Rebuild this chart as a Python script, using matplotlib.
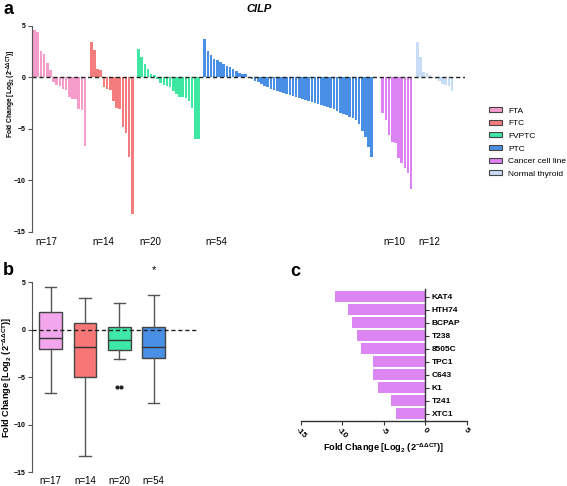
import matplotlib
matplotlib.use("Agg")
import matplotlib.pyplot as plt
import matplotlib.transforms as mtransforms
from matplotlib.patches import Patch
import numpy as np

plt.rcParams['font.family'] = ['Liberation Sans', 'DejaVu Sans']
plt.rcParams['mathtext.default'] = 'regular'

# ---------------- data ----------------
groups = ["FTA", "FTC", "FVPTC", "PTC", "Cancer cell line", "Normal thyroid"]
group_n = ["n=17", "n=14", "n=20", "n=54", "n=10", "n=12"]
colors = ["#F59CCB", "#F57C7C", "#3EE8A2", "#4A8FE6", "#DC82F2", "#C8DDF5"]

fta = [4.6, 4.4, 2.5, 2.3, 1.4, 0.7, -0.5, -0.8, -0.9, -1.1, -1.2, -1.9, -2.1, -2.1, -3.1, -3.2, -6.7]
ftc = [3.4, 2.6, 0.8, 0.7, -1.0, -1.1, -1.2, -2.3, -3.0, -3.1, -4.8, -5.4, -7.7, -13.3]
fvptc = [2.7, 2.0, 1.3, 0.8, 0.3, 0.25, -0.2, -0.6, -0.8, -0.9, -1.0, -1.3, -1.6, -1.9, -1.9,
         -2.0, -2.3, -3.0, -6.0, -6.0]
ptc = [3.7, 2.5, 2.2, 1.8, 1.7, 1.5, 1.3, 1.1, 0.95, 0.75, 0.6, 0.4, 0.35, 0.3,
       -0.1, -0.2, -0.35, -0.5, -0.7, -0.85, -1.0, -1.1, -1.25, -1.35, -1.45, -1.55, -1.65,
       -1.75, -1.8, -1.9, -2.0, -2.1, -2.2, -2.3, -2.4, -2.5, -2.6, -2.7, -2.8, -2.9, -3.0,
       -3.1, -3.3, -3.5, -3.6, -3.7, -3.9, -4.0, -4.2, -4.5, -5.2, -5.8, -6.8, -7.7]
cell_names = ["KAT4", "HTH74", "BCPAP", "T238", "8505C", "TPC1", "C643", "K1", "T241", "XTC1"]
cell_values = [-10.85, -9.3, -8.8, -8.3, -7.8, -6.35, -6.3, -5.65, -4.15, -3.5]
normal = [3.4, 2.0, 0.5, 0.4, 0.2, -0.1, -0.2, -0.4, -0.7, -0.8, -0.9, -1.3]

series_a = [fta, ftc, fvptc, ptc, cell_values[::-1], normal]
gaps_before = [0, 1, 1, 1, 2.5, 1]   # spacing between groups (in bar units)

# box plot statistics (panel b)
box_groups = ["FTA", "FTC", "FVPTC", "PTC"]
box_n = ["n=17", "n=14", "n=20", "n=54"]
box_colors = ["#F2A6EC", "#F87676", "#3EE8A6", "#4A8FE6"]
box_whishi = [4.5, 3.4, 2.8, 3.7]
box_q3 = [1.84, 0.68, 0.25, 0.33]
box_med = [-0.87, -1.81, -1.04, -1.84]
box_q1 = [-2.05, -4.93, -2.16, -3.0]
box_whislo = [-6.7, -13.3, -3.04, -7.67]
box_fliers = [[], [], [-6.0, -6.0], []]
sig_star_value = 6.3

ylab = r'Fold Change [Log$_2$ (2$^{-\Delta\Delta CT}$)]'

# ---------------- figure ----------------
fig = plt.figure(figsize=(5.67, 4.86), dpi=100)

# ---------- panel a ----------
axa = fig.add_axes([32/567, 1-231.7/486, (465-32)/567, 206/486])
pos = 0.0
starts = []
for i, (vals, col) in enumerate(zip(series_a, colors)):
    pos += gaps_before[i]
    x = pos + np.arange(len(vals))
    starts.append(pos)
    axa.bar(x, vals, width=0.82, color=col, edgecolor='none')
    pos = x[-1] + 1
axa.set_xlim(-0.83, 136.6)
axa.set_ylim(-15, 5)
axa.axhline(0, color='#222222', lw=1.0, ls=(0, (3, 2)))
for s in ['top', 'right', 'bottom']:
    axa.spines[s].set_visible(False)
axa.spines['left'].set_color('#555555')
axa.set_xticks([])
axa.set_yticks([5, 0, -5, -10, -15])
axa.tick_params(axis='y', labelsize=5, length=3, width=0.8, color='#555555', pad=1.5)
for lab in axa.get_yticklabels():
    lab.set_fontweight('bold')
fig.text(11/567, 1-94/486, ylab, rotation=90, fontsize=4.8, fontweight='bold',
         ha='center', va='center')
trans = mtransforms.blended_transform_factory(axa.transData, axa.transAxes)
for s, lab in zip(starts, group_n):
    axa.text(s + 0.3, -0.05, lab, transform=trans, ha='left', va='center', fontsize=7)
handles = [Patch(facecolor=c, edgecolor='#444444', linewidth=0.8) for c in colors]
fig.legend(handles, groups, loc='center left', bbox_to_anchor=(489/567, 1-142.5/486),
           frameon=False, fontsize=6, handlelength=1.5, handleheight=0.55,
           handletextpad=0.8, labelspacing=0.62, borderpad=0, borderaxespad=0)
fig.text(259/567, 1-9/486, 'CILP', fontsize=8, fontweight='bold', style='italic',
         ha='center', va='center')
fig.text(4/567, 1-9/486, 'a', fontsize=13, fontweight='bold', ha='left', va='center')

# ---------- panel b ----------
axb = fig.add_axes([32.3/567, 1-472.3/486, (199-32.3)/567, 190/486])
stats = []
for i in range(4):
    stats.append(dict(med=box_med[i], q1=box_q1[i], q3=box_q3[i],
                      whislo=box_whislo[i], whishi=box_whishi[i], fliers=[]))
bp = axb.bxp(stats, positions=[1, 2, 3, 4], widths=0.66, patch_artist=True,
             showfliers=False,
             boxprops=dict(edgecolor='#444444', linewidth=1.0),
             medianprops=dict(color='#333333', linewidth=1.0),
             whiskerprops=dict(color='#555555', linewidth=1.0),
             capprops=dict(color='#555555', linewidth=1.0), capwidths=0.33)
for patch, c in zip(bp['boxes'], box_colors):
    patch.set_facecolor(c)
for i, fl in enumerate(box_fliers):
    if fl:
        offs = np.linspace(-0.06, 0.06, len(fl))
        axb.scatter(np.full(len(fl), i + 1) + offs, fl, s=4, color='#222222', zorder=5)
axb.axhline(0, color='#222222', lw=1.0, ls=(0, (3, 2)), zorder=4)
axb.text(4, sig_star_value, '*', ha='center', va='center', fontsize=8, clip_on=False)
axb.set_xlim(0.463, 5.32)
axb.set_ylim(-15, 5)
for s in ['top', 'right', 'bottom']:
    axb.spines[s].set_visible(False)
axb.spines['left'].set_color('#555555')
axb.set_yticks([5, 0, -5, -10, -15])
axb.set_xticks([1, 2, 3, 4])
axb.set_xticklabels(box_n, fontsize=7)
axb.tick_params(axis='x', length=0, pad=3)
axb.tick_params(axis='y', labelsize=5, length=3, width=0.8, color='#555555', pad=1.5)
for lab in axb.get_yticklabels():
    lab.set_fontweight('bold')
fig.text(7/567, 1-377/486, ylab, rotation=90, fontsize=6.6, fontweight='bold',
         ha='center', va='center')
fig.text(3/567, 1-270/486, 'b', fontsize=13, fontweight='bold', ha='left', va='center')

# ---------- panel c ----------
axc = fig.add_axes([301/567, 1-420.7/486, 165.7/567, (420.7-289)/486])
ypos = np.arange(len(cell_names))[::-1]
axc.barh(ypos, cell_values, height=0.87, color="#DC86F3", edgecolor='none')
axc.set_xlim(-15, 5)
axc.set_ylim(-0.54, 9.59)
axc.yaxis.tick_right()
axc.spines['right'].set_position(('data', 0))
axc.spines['left'].set_visible(False)
axc.spines['top'].set_visible(False)
axc.spines['right'].set_color('#333333')
axc.spines['bottom'].set_color('#333333')
axc.spines['right'].set_linewidth(1.0)
axc.spines['bottom'].set_linewidth(1.0)
axc.set_yticks(ypos)
axc.set_yticklabels(cell_names, fontsize=6, fontweight='bold')
axc.tick_params(axis='y', length=3, width=0.8, pad=1.5, color='#333333')
axc.set_xticks([-15, -10, -5, 0, 5])
axc.set_xticklabels(['-15', '-10', '-5', '0', '5'], rotation=-45, ha='center', va='top',
                    fontsize=6, fontweight='bold')
shift = mtransforms.ScaledTranslation(-3/100, 0, fig.dpi_scale_trans)
for lab in axc.get_xticklabels():
    lab.set_transform(lab.get_transform() + shift)
axc.tick_params(axis='x', length=3, width=0.8, pad=1, color='#333333')
axc.set_xlabel(ylab, fontsize=6.6, fontweight='bold', labelpad=1)
fig.text(290/567, 1-271/486, 'c', fontsize=13, fontweight='bold', ha='left', va='center')

fig.savefig('out.png', dpi=100)
